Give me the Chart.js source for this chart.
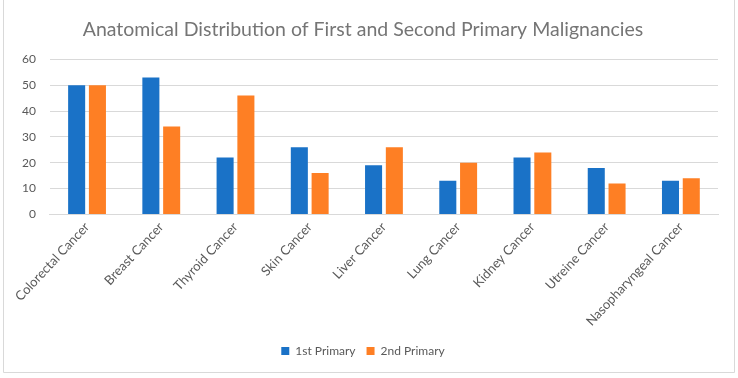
<!DOCTYPE html>
<html>
<head>
<meta charset="utf-8">
<script src="https://cdn.jsdelivr.net/npm/chart.js@4"></script>
<style>
html,body{margin:0;padding:0;background:#fff;}
#wrap{position:relative;width:738px;height:378px;}
</style>
</head>
<body>
<div id="wrap"><canvas id="c" width="738" height="378"></canvas></div>
<script>
const categories = ["Colorectal Cancer","Breast Cancer","Thyroid Cancer","Skin Cancer","Liver Cancer","Lung Cancer","Kidney Cancer","Utreine Cancer","Nasopharyngeal Cancer"];
const firstPrimary = [50,53,22,26,19,13,22,18,13];
const secondPrimary = [50,34,46,16,26,20,24,12,14];
const seriesNames = ["1st Primary","2nd Primary"];
const yTicks = [0,10,20,30,40,50,60];

const FONT = "Lato, 'Open Sans', sans-serif";

const borderPlugin = {
  id: 'frame',
  afterDraw(chart){
    const ctx = chart.ctx;
    ctx.save();
    ctx.strokeStyle = '#d9d9d9';
    ctx.lineWidth = 1;
    ctx.beginPath();
    ctx.moveTo(3.5, 0);
    ctx.lineTo(3.5, 372.5);
    ctx.lineTo(734.5, 372.5);
    ctx.lineTo(734.5, 0);
    ctx.stroke();
    ctx.restore();
  }
};

new Chart(document.getElementById('c'), {
  type: 'bar',
  data: {
    labels: categories,
    datasets: [
      {label: seriesNames[0], data: firstPrimary, backgroundColor: '#1a72c7', categoryPercentage: 0.56, barPercentage: 0.82},
      {label: seriesNames[1], data: secondPrimary, backgroundColor: '#fe7f24', categoryPercentage: 0.56, barPercentage: 0.82}
    ]
  },
  options: {
    responsive: false,
    animation: false,
    devicePixelRatio: 1,
    layout: {padding: {left: 8, right: 20, top: 10, bottom: 11}},
    plugins: {
      title: {
        display: true,
        text: 'Anatomical Distribution of First and Second Primary Malignancies',
        color: '#757575',
        font: {family: FONT, size: 19.5, weight: 'normal'},
        padding: {top: 8, bottom: 18}
      },
      legend: {
        position: 'bottom',
        labels: {
          color: '#595959',
          font: {family: FONT, size: 12},
          boxWidth: 8, boxHeight: 8, padding: 11
        }
      },
      tooltip: {enabled: false}
    },
    scales: {
      x: {
        grid: {display: false, drawTicks: false},
        border: {display: true, color: '#d9d9d9'},
        ticks: {
          color: '#595959',
          font: {family: FONT, size: 13},
          minRotation: 47, maxRotation: 47,
          padding: 5,
          autoSkip: false
        }
      },
      y: {
        min: 0, max: 60,
        afterBuildTicks(axis){ axis.ticks = yTicks.map(v => ({value: v})); },
        grid: {color: '#d9d9d9', drawTicks: false},
        border: {display: false},
        ticks: {
          color: '#595959',
          font: {family: FONT, size: 12},
          padding: 14
        }
      }
    }
  },
  plugins: [borderPlugin]
});
</script>
</body>
</html>
